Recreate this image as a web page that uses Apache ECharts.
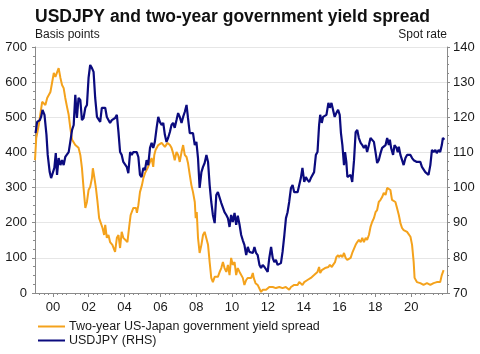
<!DOCTYPE html>
<html>
<head>
<meta charset="utf-8">
<script src="https://cdn.jsdelivr.net/npm/echarts@6/dist/echarts.min.js"></script>
<style>
    html, body { margin: 0; padding: 0; background: #fff; }
    #chart { width: 480px; height: 354px; }
</style>
</head>
<body>
<div id="chart"></div>
<script>
// x tick years (labels shown as two digits)
const tickYears = [2000, 2002, 2004, 2006, 2008, 2010, 2012, 2014, 2016, 2018, 2020]

// two-year US-Japan yield spread, basis points [year, value]
const spreadData = [
    [1999.0, 378], [1999.07, 441], [1999.21, 478], [1999.4, 544], [1999.58, 535], [1999.68, 555], [1999.86, 572],
    [2000.05, 626], [2000.14, 615], [2000.32, 640], [2000.42, 612], [2000.51, 592], [2000.6, 583], [2000.69, 555],
    [2000.79, 529], [2000.88, 507], [2000.97, 470], [2001.07, 436], [2001.25, 421], [2001.43, 413], [2001.53, 393],
    [2001.62, 356], [2001.71, 299], [2001.81, 242], [2001.9, 259], [2001.99, 293], [2002.08, 302], [2002.18, 327],
    [2002.23, 355], [2002.31, 330], [2002.4, 299], [2002.49, 259], [2002.58, 213], [2002.68, 208], [2002.77, 185],
    [2002.86, 165], [2002.92, 194], [2003.01, 157], [2003.1, 165], [2003.19, 145], [2003.32, 137], [2003.47, 117],
    [2003.57, 157], [2003.66, 165], [2003.75, 128], [2003.84, 174], [2003.93, 157], [2004.03, 160], [2004.16, 145],
    [2004.25, 185], [2004.34, 222], [2004.49, 242], [2004.64, 242], [2004.69, 228], [2004.77, 250], [2004.86, 287],
    [2004.97, 307], [2005.05, 327], [2005.14, 341], [2005.29, 356], [2005.42, 373], [2005.51, 384], [2005.6, 359],
    [2005.66, 393], [2005.73, 407], [2005.88, 421], [2006.07, 427], [2006.25, 416], [2006.4, 427], [2006.53, 421],
    [2006.62, 413], [2006.71, 398], [2006.8, 378], [2006.9, 401], [2006.99, 393], [2007.08, 373], [2007.18, 401],
    [2007.27, 421], [2007.36, 393], [2007.46, 387], [2007.54, 370], [2007.64, 336], [2007.73, 307], [2007.82, 287],
    [2007.92, 259], [2007.97, 213], [2008.03, 230], [2008.1, 157], [2008.19, 114], [2008.29, 137], [2008.38, 165],
    [2008.47, 174], [2008.57, 171], [2008.66, 137], [2008.75, 88], [2008.84, 43], [2008.93, 31], [2009.03, 46],
    [2009.12, 51], [2009.21, 46], [2009.31, 60], [2009.4, 71], [2009.49, 88], [2009.58, 71], [2009.68, 60],
    [2009.77, 80], [2009.86, 51], [2009.95, 100], [2010.04, 80], [2010.14, 88], [2010.23, 51], [2010.32, 71],
    [2010.42, 60], [2010.6, 43], [2010.69, 23], [2010.79, 37], [2010.88, 43], [2010.97, 46], [2011.07, 43],
    [2011.16, 57], [2011.21, 43], [2011.31, 28], [2011.43, 23], [2011.53, 23], [2011.62, 3], [2011.71, 9],
    [2011.9, 9], [2012.08, 17], [2012.18, 14], [2012.27, 17], [2012.45, 14], [2012.64, 17], [2012.82, 14],
    [2013.0, 17], [2013.19, 9], [2013.29, 17], [2013.47, 23], [2013.57, 28], [2013.66, 23], [2013.75, 31],
    [2013.84, 28], [2013.93, 23], [2014.03, 31], [2014.12, 28], [2014.21, 37], [2014.31, 37], [2014.4, 43],
    [2014.49, 46], [2014.58, 51], [2014.68, 51], [2014.77, 60], [2014.86, 74], [2014.92, 57], [2015.01, 65],
    [2015.08, 60], [2015.19, 71], [2015.27, 71], [2015.38, 74], [2015.46, 80], [2015.57, 74], [2015.64, 80],
    [2015.75, 88], [2015.82, 102], [2015.92, 108], [2015.97, 102], [2016.07, 108], [2016.16, 102], [2016.25, 114],
    [2016.34, 100], [2016.43, 94], [2016.53, 94], [2016.62, 100], [2016.71, 114], [2016.9, 137], [2016.99, 145],
    [2017.08, 151], [2017.18, 145], [2017.27, 157], [2017.36, 145], [2017.46, 157], [2017.54, 151], [2017.64, 165],
    [2017.73, 188], [2017.82, 202], [2017.92, 213], [2018.01, 230], [2018.1, 236], [2018.19, 259], [2018.29, 265],
    [2018.38, 273], [2018.47, 285], [2018.57, 279], [2018.66, 299], [2018.75, 299], [2018.84, 293], [2018.93, 265],
    [2019.03, 270], [2019.12, 259], [2019.21, 242], [2019.31, 222], [2019.4, 199], [2019.49, 185], [2019.58, 179],
    [2019.77, 174], [2019.96, 160], [2020.05, 137], [2020.14, 88], [2020.19, 43], [2020.32, 31], [2020.51, 28],
    [2020.69, 23], [2020.88, 28], [2021.07, 23], [2021.25, 28], [2021.43, 31], [2021.62, 31], [2021.71, 51],
    [2021.81, 65]
]

// USDJPY spot rate (RHS) [year, value]
const fxData = [
    [1999.03, 115.5], [1999.12, 118.7], [1999.27, 119.2], [1999.34, 120.1], [1999.42, 122.1], [1999.53, 120.7],
    [1999.64, 115], [1999.71, 109.3], [1999.82, 104.4], [1999.9, 102.7], [2000.01, 102.2], [2000.08, 105.6],
    [2000.16, 109.8], [2000.23, 103.6], [2000.32, 108.4], [2000.42, 106.4], [2000.51, 107.8], [2000.6, 106.4],
    [2000.69, 108.7], [2000.79, 108.4], [2000.88, 110.1], [2000.97, 113], [2001.07, 116.4], [2001.16, 117.8],
    [2001.25, 126.4], [2001.34, 119.8], [2001.43, 125.5], [2001.53, 124.9], [2001.62, 119.2], [2001.71, 119.8],
    [2001.81, 122.7], [2001.9, 123.5], [2001.99, 131.2], [2002.08, 134.9], [2002.18, 134.0], [2002.27, 132.9],
    [2002.36, 125.5], [2002.46, 120.1], [2002.54, 119.8], [2002.64, 118.7], [2002.73, 122.7], [2002.82, 123],
    [2002.92, 122.7], [2003.01, 120.1], [2003.1, 119.8], [2003.19, 118.4], [2003.29, 119.2], [2003.38, 118.7],
    [2003.47, 119.8], [2003.57, 120.7], [2003.66, 115.8], [2003.75, 110.1], [2003.84, 109.3], [2003.93, 107.3],
    [2004.03, 107.8], [2004.12, 105.9], [2004.21, 104.1], [2004.31, 110.1], [2004.4, 109.3], [2004.49, 110.1],
    [2004.58, 110], [2004.68, 110.1], [2004.77, 108.7], [2004.86, 103.6], [2004.95, 103], [2005.05, 105.6],
    [2005.14, 105], [2005.23, 107.8], [2005.32, 106.4], [2005.42, 111.3], [2005.51, 112.7], [2005.6, 111.3],
    [2005.69, 113], [2005.79, 117], [2005.88, 120.1], [2005.97, 118.7], [2006.07, 117.8], [2006.16, 118.4],
    [2006.25, 115], [2006.34, 113], [2006.43, 114.1], [2006.53, 115.8], [2006.62, 117.8], [2006.71, 118.4],
    [2006.8, 117], [2006.9, 119.2], [2006.99, 121.2], [2007.08, 120.1], [2007.18, 118.4], [2007.27, 120.1],
    [2007.36, 121.5], [2007.46, 123.5], [2007.54, 119.8], [2007.64, 115.5], [2007.73, 115], [2007.82, 115.5],
    [2007.92, 112.1], [2008.01, 113], [2008.1, 108.4], [2008.19, 99.9], [2008.29, 104.4], [2008.38, 105.9],
    [2008.47, 107], [2008.57, 109.3], [2008.66, 107.3], [2008.75, 100.7], [2008.84, 95.9], [2008.93, 92.2],
    [2009.03, 89.9], [2009.12, 97.9], [2009.21, 98.7], [2009.31, 98.5], [2009.4, 95.6], [2009.49, 95.9],
    [2009.58, 93], [2009.68, 92.2], [2009.77, 91.3], [2009.86, 88.8], [2009.95, 92.2], [2010.04, 90.2],
    [2010.14, 92.8], [2010.23, 89.4], [2010.32, 92], [2010.42, 89.4], [2010.51, 86.5], [2010.6, 85],
    [2010.69, 83.7], [2010.79, 80.8], [2010.88, 83.1], [2010.97, 81.7], [2011.07, 82.2], [2011.16, 81.4],
    [2011.25, 83.1], [2011.34, 81.4], [2011.43, 80.8], [2011.53, 78], [2011.62, 77.1], [2011.71, 78],
    [2011.81, 77.4], [2011.9, 77.4], [2011.99, 76], [2012.08, 80], [2012.18, 83.1], [2012.27, 80],
    [2012.36, 78.8], [2012.45, 79.4], [2012.54, 78], [2012.64, 78], [2012.73, 78.5], [2012.82, 81.7],
    [2012.92, 86.5], [2013.01, 91.3], [2013.1, 93], [2013.19, 95.9], [2013.29, 99.9], [2013.38, 100.7],
    [2013.47, 98.7], [2013.57, 98.5], [2013.66, 98.7], [2013.75, 98.5], [2013.84, 102.7], [2013.93, 105.6],
    [2014.03, 101.6], [2014.12, 103], [2014.21, 102.2], [2014.31, 101.6], [2014.4, 102.7], [2014.49, 103],
    [2014.58, 104.4], [2014.68, 109.3], [2014.77, 110.1], [2014.86, 117.8], [2014.92, 120.7], [2015.01, 118.4],
    [2015.08, 120.1], [2015.19, 120.1], [2015.27, 120.7], [2015.38, 124.1], [2015.46, 122.7], [2015.55, 124.1],
    [2015.64, 122.1], [2015.73, 120.1], [2015.82, 121.2], [2015.92, 122.1], [2016.01, 120.7], [2016.08, 115.5],
    [2016.16, 112.1], [2016.25, 106.4], [2016.31, 110.1], [2016.38, 107.3], [2016.44, 103], [2016.53, 103],
    [2016.62, 103.6], [2016.71, 101.6], [2016.81, 107.8], [2016.9, 115.8], [2016.99, 116.4], [2017.08, 114.1],
    [2017.18, 112.7], [2017.27, 112.1], [2017.36, 111.3], [2017.46, 112.1], [2017.54, 110.1], [2017.64, 112.1],
    [2017.73, 114.1], [2017.82, 113.6], [2017.92, 113], [2018.01, 110.1], [2018.1, 107], [2018.19, 107.8],
    [2018.29, 109.8], [2018.38, 111.3], [2018.47, 111.6], [2018.57, 112.1], [2018.66, 114.1], [2018.75, 112.1],
    [2018.81, 113.6], [2018.88, 111.3], [2018.99, 109.3], [2019.07, 112.1], [2019.18, 111.3], [2019.25, 110.1],
    [2019.31, 111.6], [2019.4, 109.3], [2019.49, 109.8], [2019.58, 106.4], [2019.68, 108.4], [2019.77, 109.3],
    [2019.86, 109.8], [2019.96, 109.3], [2020.05, 108.4], [2020.14, 107.8], [2020.23, 107.8], [2020.32, 107.3],
    [2020.42, 107.8], [2020.51, 107.3], [2020.6, 105.9], [2020.69, 105.6], [2020.79, 104.4], [2020.88, 104.1],
    [2020.97, 103.6], [2021.07, 106.4], [2021.16, 110.7], [2021.25, 110.1], [2021.35, 110.7], [2021.43, 109.8],
    [2021.53, 110.7], [2021.62, 110.1], [2021.71, 112.1], [2021.77, 114.1], [2021.85, 113.6]
]

const chart = echarts.init(document.getElementById('chart'))
const axisColor = '#8a8a8a'
const textColor = '#1a1a1a'
const font = 'Liberation Sans, Arial, sans-serif'

chart.setOption({
    animation: false,
    textStyle: { fontFamily: font },
    title: {
        text: 'USDJPY and two-year government yield spread',
        left: 30,
        top: 3,
        textStyle: { fontSize: 17.5, fontWeight: 'bold', color: '#111', fontFamily: font }
    },
    legend: {
        orient: 'vertical',
        left: 38,
        top: 320,
        padding: 0,
        itemGap: 1,
        itemWidth: 27,
        itemHeight: 2,
        icon: 'rect',
        textStyle: { fontSize: 12.5, lineHeight: 13, color: textColor, padding: [0, 0, 0, -1] },
        data: ['Two-year US-Japan government yield spread', 'USDJPY (RHS)']
    },
    grid: { left: 35, right: 33, top: 47, bottom: 61 },
    xAxis: {
        type: 'value',
        min: 1999,
        max: 2022,
        interval: 1,
        axisLine: { lineStyle: { color: axisColor } },
        axisTick: { length: 4, lineStyle: { color: axisColor }, customValues: tickYears },
        minorTick: { show: true, splitNumber: 4, length: 2, lineStyle: { color: axisColor } },
        axisLabel: {
            customValues: tickYears,
            fontSize: 13,
            color: textColor,
            margin: 8,
            formatter: v => String(v).slice(2)
        },
        splitLine: { show: false }
    },
    yAxis: [
        {
            type: 'value',
            min: 0,
            max: 700,
            interval: 100,
            name: 'Basis points',
            nameLocation: 'end',
            nameGap: 6,
            nameTextStyle: { align: 'left', fontSize: 12, color: textColor },
            axisLine: { show: true, lineStyle: { color: axisColor } },
            axisTick: { show: true, length: 3, lineStyle: { color: axisColor } },
            minorTick: { show: true, splitNumber: 4, length: 2, lineStyle: { color: axisColor } },
            axisLabel: { fontSize: 13, color: textColor, margin: 8 },
            splitLine: { lineStyle: { color: '#e6e6e6' } }
        },
        {
            type: 'value',
            min: 70,
            max: 140,
            interval: 10,
            name: 'Spot rate',
            nameLocation: 'end',
            nameGap: 6,
            nameTextStyle: { align: 'right', fontSize: 12, color: textColor },
            axisLine: { show: true, lineStyle: { color: axisColor } },
            axisTick: { show: true, length: 3, lineStyle: { color: axisColor } },
            minorTick: { show: true, splitNumber: 4, length: 2, lineStyle: { color: axisColor } },
            axisLabel: { fontSize: 13, color: textColor, margin: 6 },
            splitLine: { show: false }
        }
    ],
    series: [
        {
            name: 'Two-year US-Japan government yield spread',
            type: 'line',
            yAxisIndex: 0,
            data: spreadData,
            showSymbol: false,
            color: '#f4a21c',
            lineStyle: { width: 2, color: '#f4a21c' },
            z: 2
        },
        {
            name: 'USDJPY (RHS)',
            type: 'line',
            yAxisIndex: 1,
            data: fxData,
            showSymbol: false,
            color: '#0b0b7e',
            lineStyle: { width: 2.2, color: '#0b0b7e' },
            z: 3
        }
    ]
})
</script>
</body>
</html>
